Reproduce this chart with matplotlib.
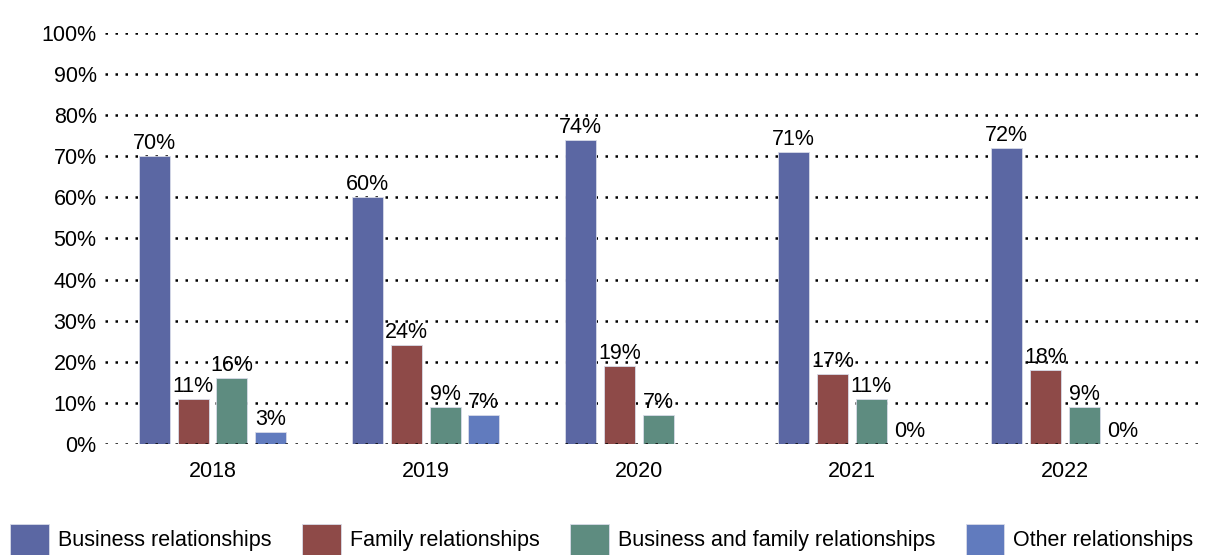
import numpy as np
import matplotlib
matplotlib.use("Agg")
import matplotlib.pyplot as plt

plt.rcParams['font.family'] = ['Liberation Sans', 'DejaVu Sans']

years = ['2018', '2019', '2020', '2021', '2022']
series = ['Business relationships', 'Family relationships',
          'Business and family relationships', 'Other relationships']
business = [70, 60, 74, 71, 72]
family = [11, 24, 19, 17, 18]
both = [16, 9, 7, 11, 9]
other = [3, 7, None, 0, 0]
colors = ['#5B67A3', '#8E4A48', '#5E8C80', '#617BBE']

fs = 15.5
fig = plt.figure(figsize=(12.13, 5.55), dpi=100)
ax = fig.add_axes([105 / 1213, 1 - 444 / 555, 1095 / 1213, 411 / 555])

x = np.arange(len(years))
step = 0.1817
width = 0.1455
for i, (vals, name) in enumerate(zip([business, family, both, other], series)):
    xs = [xi + (i - 1.5) * step for xi, v in zip(x, vals) if v is not None]
    vs = [v for v in vals if v is not None]
    ax.bar(xs, vs, width, color=colors[i], edgecolor='#d8dbe8', linewidth=0.6,
           label=name, zorder=2)
    for xx, v in zip(xs, vs):
        ax.text(xx, v + 0.5, f'{v}%', ha='center', va='bottom', fontsize=fs, zorder=4)

ax.set_ylim(0, 100)
ax.set_xlim(-0.505, 4.634)
ax.set_yticks(np.arange(0, 101, 10))
ax.set_yticklabels([f'{t}%' for t in range(0, 101, 10)], fontsize=fs)
ax.set_xticks(x)
ax.set_xticklabels(years, fontsize=fs)
ax.tick_params(length=0)
ax.tick_params(axis='x', pad=12)
ax.tick_params(axis='y', pad=6)
for s in ax.spines.values():
    s.set_visible(False)

for t in range(10, 101, 10):
    ax.axhline(t, color='black', linewidth=1.8, linestyle=(0, (1, 3)),
               dash_capstyle='butt', zorder=1)
ax.axhline(0, color='black', linewidth=1.8, linestyle=(0, (1, 3)),
           dash_capstyle='butt', zorder=3)

fig.legend(*ax.get_legend_handles_labels(), loc='lower left',
           bbox_to_anchor=(10 / 1213, 0), ncol=4, frameon=False, fontsize=fs,
           handlelength=1.8, handleheight=1.85, handletextpad=0.42,
           columnspacing=1.42, borderpad=0, borderaxespad=0)

fig.savefig('out.png', dpi=100)
